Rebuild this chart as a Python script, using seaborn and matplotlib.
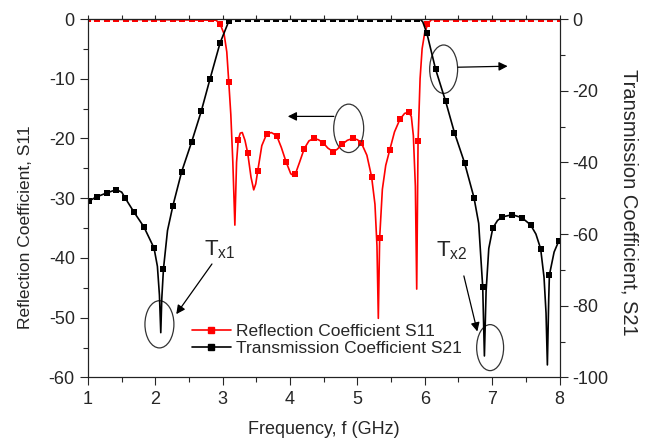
import numpy as np
import pandas as pd
import seaborn as sns
import matplotlib.pyplot as plt
from matplotlib.lines import Line2D
from matplotlib.patches import Ellipse
from matplotlib.ticker import MultipleLocator

# S11 curve (left axis, dB)
s11_freq = [1.00, 2.90, 2.96, 3.02, 3.06, 3.09, 3.12, 3.15, 3.18, 3.205, 3.23, 3.26, 3.29,
            3.33, 3.37, 3.42, 3.46, 3.49, 3.52, 3.58, 3.65, 3.72, 3.80, 3.87, 3.94, 4.01,
            4.05, 4.08, 4.14, 4.21, 4.28, 4.35, 4.42, 4.49, 4.56, 4.64, 4.70, 4.77, 4.85,
            4.93, 5.00, 5.06, 5.14, 5.21, 5.26, 5.29, 5.31, 5.33, 5.37, 5.42, 5.48, 5.55,
            5.63, 5.70, 5.76, 5.80, 5.83, 5.86, 5.88, 5.90, 5.93, 5.96, 6.00, 6.05, 6.10, 8.00]
s11_db = [0, -0.2, -0.8, -2.5, -5.5, -10.6, -16, -24, -34.5, -24, -20.2, -19.1, -19.0,
          -20.3, -22.4, -26.5, -28.6, -27.6, -25.4, -21.2, -19.3, -19.0, -19.5, -21.5, -23.9, -25.9,
          -26.2, -25.9, -24.0, -21.7, -20.4, -20.0, -20.2, -20.7, -21.6, -22.2, -21.8, -21.0, -20.3,
          -20.0, -20.2, -20.8, -22.8, -26.4, -31, -38, -50.1, -36.6, -28.5, -24.5, -21.9, -18.9,
          -16.8, -15.8, -15.6, -16.3, -19.5, -28, -45.2, -20.5, -10, -5, -2.2, -0.7, -0.1, 0]

# S11 marker points
s11_mk_freq = [1.00, 1.14, 1.28, 1.42, 1.56, 1.70, 1.84, 1.98, 2.12, 2.26, 2.40, 2.54, 2.68, 2.82,
               2.96, 3.09, 3.23, 3.37, 3.52, 3.65, 3.80, 3.94, 4.08, 4.21, 4.35, 4.49, 4.64, 4.77,
               4.93, 5.06, 5.21, 5.33, 5.48, 5.63, 5.76, 5.90, 6.04, 6.18, 6.32, 6.46, 6.60, 6.74,
               6.88, 7.02, 7.16, 7.30, 7.44, 7.58, 7.72, 7.86, 8.00]
s11_mk_db = [0, 0, 0, 0, 0, 0, 0, 0, 0, 0, 0, 0, 0, 0,
             -0.8, -10.6, -20.2, -22.4, -25.4, -19.3, -19.5, -23.9, -25.9, -21.7, -20.0, -20.7, -22.2, -21.0,
             -20.0, -20.8, -26.4, -36.6, -21.9, -16.8, -15.6, -20.5, -0.8, 0, 0, 0, 0, 0,
             0, 0, 0, 0, 0, 0, 0, 0, 0]

# S21 curve (right axis, dB)
s21_freq = [1.00, 1.13, 1.28, 1.42, 1.50, 1.55, 1.68, 1.83, 1.98, 2.03, 2.06, 2.08, 2.095, 2.12,
            2.18, 2.26, 2.39, 2.54, 2.68, 2.81, 2.96, 3.09, 3.13, 5.93, 5.97, 6.03, 6.16, 6.31,
            6.44, 6.59, 6.73, 6.80, 6.86, 6.885, 6.91, 6.95, 7.01, 7.08, 7.15, 7.30, 7.44, 7.57,
            7.65, 7.72, 7.77, 7.80, 7.82, 7.84, 7.85, 7.92, 7.99, 8.00]
s21_db = [-50.9, -49.6, -48.5, -47.6, -48.3, -49.9, -53.8, -58.0, -63.9, -69, -77, -87.5, -78, -69.7,
          -59, -52.1, -42.6, -34.2, -25.8, -16.8, -6.7, -0.6, 0, 0, -0.8, -3.9, -14.0, -23.0,
          -31.7, -40.1, -49.8, -57, -74.8, -94, -76, -64, -58.3, -56.2, -55.2, -54.6, -55.4, -57.4,
          -60, -64.1, -72, -82, -96.5, -78, -71.4, -65, -61.9, -61.5]

# S21 marker points
s21_mk_freq = [1.01, 1.13, 1.28, 1.42, 1.55, 1.68, 1.83, 1.98, 2.12, 2.26, 2.39, 2.54, 2.68, 2.81,
               2.96, 3.09, 3.23, 3.37, 3.51, 3.65, 3.79, 3.93, 4.07, 4.21, 4.35, 4.49, 4.63, 4.77,
               4.91, 5.05, 5.19, 5.33, 5.47, 5.61, 5.75, 5.89, 6.03, 6.16, 6.31, 6.44, 6.59, 6.73,
               6.86, 7.01, 7.15, 7.30, 7.44, 7.57, 7.72, 7.85, 7.99]
s21_mk_db = [-50.7, -49.6, -48.5, -47.6, -49.9, -53.8, -58.0, -63.9, -69.7, -52.1, -42.6, -34.2, -25.8, -16.8,
             -6.7, -0.6, 0, 0, 0, 0, 0, 0, 0, 0, 0, 0, 0, 0,
             0, 0, 0, 0, 0, 0, 0, 0, -3.9, -14.0, -23.0, -31.7, -40.1, -49.8,
             -74.8, -58.3, -55.2, -54.6, -55.4, -57.4, -64.1, -71.4, -61.9]

labels = ['Reflection Coefficient S11', 'Transmission Coefficient S21']

sns.set_style('ticks')
plt.rcParams['font.family'] = ['Liberation Sans', 'DejaVu Sans']
plt.rcParams['mathtext.default'] = 'regular'
plt.rcParams['axes.unicode_minus'] = False

fig = plt.figure(figsize=(6.55, 4.45), dpi=100)
ax = fig.add_axes([0.1344, 0.1517, 0.7198, 0.8056])
ax2 = ax.twinx()

red = '#ff0000'
s11_df = pd.DataFrame({'f': s11_freq, 'db': s11_db})
s21_df = pd.DataFrame({'f': s21_freq, 'db': s21_db})
sns.lineplot(data=s11_df, x='f', y='db', ax=ax, color=red, lw=1.2, sort=False, estimator=None)
sns.scatterplot(x=s11_mk_freq, y=s11_mk_db, ax=ax, color=red, marker='s', s=22, linewidth=0)
sns.lineplot(data=s21_df, x='f', y='db', ax=ax2, color='black', lw=1.2, sort=False, estimator=None)
sns.scatterplot(x=s21_mk_freq, y=s21_mk_db, ax=ax2, color='black', marker='s', s=22, linewidth=0)

ax.set_xlim(1, 8)
ax.set_ylim(-60, 0)
ax2.set_ylim(-100, 0)
ax.xaxis.set_major_locator(MultipleLocator(1))
ax.xaxis.set_minor_locator(MultipleLocator(0.5))
ax.yaxis.set_major_locator(MultipleLocator(10))
ax.yaxis.set_minor_locator(MultipleLocator(5))
ax2.yaxis.set_major_locator(MultipleLocator(20))
ax2.yaxis.set_minor_locator(MultipleLocator(10))

for a in (ax, ax2):
    a.tick_params(which='major', direction='out', length=6, width=0.8, labelsize=13)
    a.tick_params(which='minor', direction='out', length=3.5, width=0.8)
    for sp in a.spines.values():
        sp.set_visible(True)
        sp.set_linewidth(0.8)
        sp.set_color('#222222')

top = ax.secondary_xaxis('top')
top.xaxis.set_major_locator(MultipleLocator(0.5))
top.tick_params(direction='out', length=3, width=0.8, labeltop=False)

ax.set_xlabel('Frequency, f (GHz)', fontsize=13)
ax.xaxis.set_label_coords(0.5, -0.121)
ax.set_ylabel('Reflection Coefficient, S11', fontsize=12.5)
ax.yaxis.set_label_coords(-0.1166, 0.42)
ax2.set_ylabel('Transmission Coefficient, S21', fontsize=14.5, rotation=270, va='bottom')
ax2.yaxis.set_label_coords(1.128, 0.49)

# annotations (left-axis data coordinates)
ell_kw = dict(fill=False, ec='#333333', lw=0.9)
for cx, cy, w, h in [(2.06, -51.1, 0.43, 7.9), (6.97, -55.0, 0.40, 7.7),
                     (4.87, -18.3, 0.445, 8.1), (6.28, -8.4, 0.415, 8.1)]:
    ax.add_patch(Ellipse((cx, cy), w, h, **ell_kw))

arr_kw = dict(arrowstyle='-|>', color='black', lw=0.9, mutation_scale=13, shrinkA=0, shrinkB=0)
ax.annotate('', xy=(3.966, -16.3), xytext=(4.65, -16.3), arrowprops=arr_kw)
ax.annotate('', xy=(7.23, -7.9), xytext=(6.49, -8.07), arrowprops=arr_kw)
ax.annotate('', xy=(2.31, -49.4), xytext=(2.84, -41.0), arrowprops=arr_kw)
ax.annotate('', xy=(6.78, -52.3), xytext=(6.58, -43.0), arrowprops=arr_kw)
ax.text(2.72, -39.6, r'T$_{x1}$', fontsize=16, ha='left', va='baseline')
ax.text(6.16, -39.8, r'T$_{x2}$', fontsize=16, ha='left', va='baseline')

handles = [Line2D([], [], color=red, lw=1.2, marker='s', markersize=5),
           Line2D([], [], color='black', lw=1.2, marker='s', markersize=5)]
ax2.legend(handles, labels, loc='center left', bbox_to_anchor=(0.22, 0.104), frameon=False,
           fontsize=12.5, borderpad=0, borderaxespad=0, handlelength=2.25, handletextpad=0.3,
           labelspacing=0.1)

fig.savefig('out.png', dpi=100)
